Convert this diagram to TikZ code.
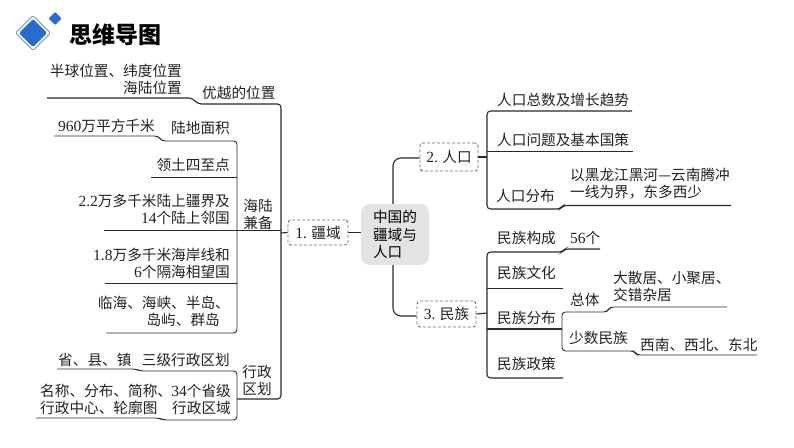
\documentclass[tikz,border=0pt]{standalone}
\usepackage{fontspec}
\setmainfont{Liberation Serif}
\newfontfamily\cjk{Noto Sans CJK SC}
\newcommand{\lat}[1]{{\rmfamily\fontsize{15.5}{17}\selectfont #1}}
\definecolor{ink}{HTML}{222222}
\definecolor{lineink}{HTML}{2A2A2A}
\definecolor{blueA}{HTML}{2A6BCF}
\tikzset{
  tx/.style={inner sep=0pt,text=ink,font=\cjk\fontsize{14.65}{17}\selectfont},
  te/.style={tx,anchor=east,align=right},
  tw/.style={tx,anchor=west,align=left},
  tc/.style={tx,align=center},
  ln/.style={draw=lineink,line width=1.1pt,rounded corners=3.5pt},
  dbox/.style={draw=gray!85!black,dashed,dash pattern=on 3pt off 2pt,line width=0.9pt,rounded corners=3pt,minimum height=26pt,inner sep=0pt,text=ink,font=\cjk\fontsize{14.65}{17}\selectfont},
}
\begin{document}
\begin{tikzpicture}[x=1pt,y=-1pt]
\useasboundingbox (0,0) rectangle (794,447);
\fill[white] (0,0) rectangle (794,447);
% header
\draw[blueA!70,line width=0.8pt,fill=white,rounded corners=2pt] (33,15.5)--(50.5,33)--(33,50.5)--(15.5,33)--cycle;
\fill[blueA,rounded corners=1.5pt] (33,19)--(47,33)--(33,47)--(19,33)--cycle;
\fill[blueA,rounded corners=1pt] (55,12)--(61.5,18.5)--(55,25)--(48.5,18.5)--cycle;
\node[tw,text=black,font=\cjk\bfseries\fontsize{23}{24}\selectfont] (title) at (69,35) {思维导图};
% centre and main boxes
\node[fill=black!11,rounded corners=9pt,minimum width=68pt,minimum height=61pt,inner sep=0pt,align=left,text=black,font=\cjk\fontsize{14.65}{17.5}\selectfont] (root) at (395,234.5) {中国的\\疆域与\\人口};
\node[dbox,minimum width=60pt,minimum height=25pt] (b1) at (318,232.5) {\lat{1.} 疆域};
\node[dbox,minimum width=58pt,minimum height=28pt] (b2) at (449,157) {\lat{2.} 人口};
\node[dbox,minimum width=59pt] (b3) at (446.5,314) {\lat{3.} 民族};
% left texts
\node[te] (a1) at (182,79.5) {半球位置、纬度位置\\海陆位置};
\node[tw] (a2) at (202,93) {优越的位置};
\node[tw] (a3) at (58,125.5) {\lat{960}万平方千米};
\node[te] (a4) at (230,128) {陆地面积};
\node[te] (a5) at (230,165) {领土四至点};
\node[te] (a6) at (230,209.5) {\lat{2.2}万多千米陆上疆界及\\\lat{14}个陆上邻国};
\node[tc] (a7) at (258,214.5) {海陆\\兼备};
\node[te] (a8) at (230,263) {\lat{1.8}万多千米海岸线和\\\lat{6}个隔海相望国};
\node[te] (a9) at (230,311.5) {临海、海峡、半岛、\\岛屿、群岛\hspace*{10pt}};
\node[tw] (a10) at (58,360) {省、县、镇};
\node[te] (a11) at (230,360) {三级行政区划};
\node[tc] (a12) at (257,380) {行政\\区划};
\node[tw] (a13) at (40,399.5) {名称、分布、简称、\\行政中心、轮廓图};
\node[te] (a14) at (231,399.5) {\lat{34}个省级\\行政区域};
% right texts
\node[tw] (c1) at (497,100) {人口总数及增长趋势};
\node[tw] (c2) at (497,140) {人口问题及基本国策};
\node[tw] (c3) at (496,196) {人口分布};
\node[tw] (c4) at (570,184) {以黑龙江黑河—云南腾冲\\一线为界，东多西少};
\node[tw] (d1) at (497,238) {民族构成};
\node[tw] (d2) at (570,238) {\lat{56}个};
\node[tw] (d3) at (497,273) {民族文化};
\node[tw] (d4) at (497,318) {民族分布};
\node[tw] (d5) at (497,364) {民族政策};
\node[tw] (d6) at (570,300) {总体};
\node[tw] (d7) at (613,286.5) {大散居、小聚居、\\交错杂居};
\node[tw] (d8) at (569,338) {少数民族};
\node[tw] (d9) at (640,345) {西南、西北、东北};
% centre connectors
\draw[ln] (b1.east) -- (root.west |- b1.east);
\draw[ln,rounded corners=8pt] (root.north -| 393,0) -- (393,158) -- (b2.west |- 0,158);
\draw[ln,rounded corners=8pt] (root.south -| 393,0) -- (393,316) -- (b3.west |- 0,316);
% left trunk
\coordinate (t1) at (281,233);
\draw[ln] (47,98) -- (192,98) -- (198,104) -- (281,104) -- (t1) -- (281,399) -- (237,399);
\draw[ln] (b1.west) -- (t1);
% sea and land
\draw[ln,line width=0.9pt] (54,136) -- (158,136) -- (162,141) -- (237,141) -- (237,333) -- (106,333);
\draw[ln,line width=0.9pt] (151,177) -- (237,177);
\draw[ln,line width=0.9pt] (104,230) -- (281,230);
\draw[ln,line width=0.9pt] (105,283) -- (237,283);
% administrative
\draw[ln,line width=0.9pt] (57,369) -- (136,369) -- (140,371) -- (237,371) -- (237,420) -- (163,420) -- (159,418) -- (36,418);
% population
\draw[ln] (b2.east) -- (487,157);
\draw[ln] (632,111) -- (487,111) -- (487,209) -- (560,209) -- (563,205.5) -- (731,205.5);
\draw[ln,line width=0.9pt] (487,151) -- (633,151);
% nationalities
\draw[ln] (b3.east) -- (487,313);
\draw[ln] (600,249) -- (565,249) -- (562,252) -- (487,252) -- (487,378) -- (563,378);
\draw[ln,line width=0.9pt] (487,288) -- (563,288);
\draw[ln] (487,329) -- (562,329);
\draw[ln,line width=0.9pt] (727,307) -- (610,307) -- (607,312) -- (562,312) -- (562,351) -- (634,351) -- (637,355) -- (757,355);
\end{tikzpicture}
\end{document}
